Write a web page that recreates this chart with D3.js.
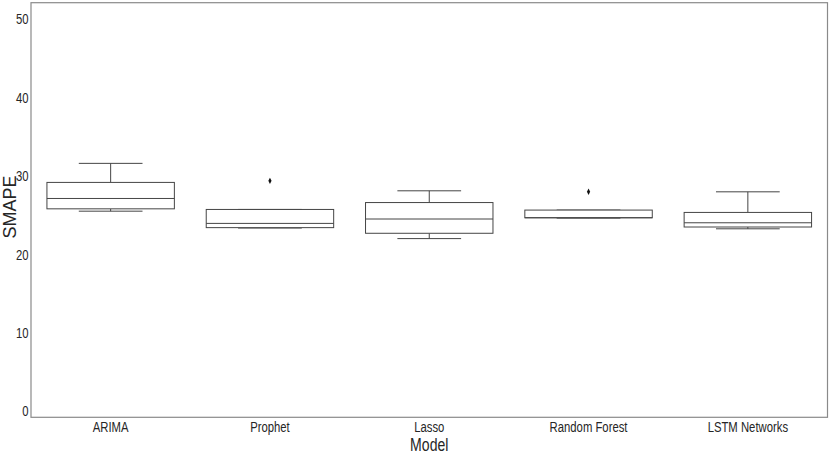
<!DOCTYPE html>
<html>
<head>
<meta charset="utf-8">
<script src="https://cdn.jsdelivr.net/npm/d3@7"></script>
<style>
  html, body { margin: 0; padding: 0; background: #fff; }
  svg { display: block; }
  text { font-family: "Liberation Sans", Arial, sans-serif; }
</style>
</head>
<body>
<script>
const categories = ["ARIMA", "Prophet", "Lasso", "Random Forest", "LSTM Networks"];
const whiskerLow = [25.5, 23.35, 22.0, 24.62, 23.25];
const q1 = [25.8, 23.4, 22.68, 24.66, 23.48];
const medians = [27.12, 23.94, 24.5, 24.66, 24.02];
const q3 = [29.17, 25.72, 26.6, 25.64, 25.34];
const whiskerHigh = [31.6, 25.72, 28.1, 25.64, 27.97];
const outliers = [[], [29.37], [], [27.97], []];
const yTicks = [0, 10, 20, 30, 40, 50];

const W = 831, H = 457;
const m = { left: 31, right: 3.5, top: 2.7, bottom: 39.7 };
const narrow = 0.78;

const svg = d3.select("body").append("svg").attr("width", W).attr("height", H);

const x = d3.scaleBand().domain(categories).range([m.left, W - m.right]).padding(0);
const y = d3.scaleLinear().domain([-0.8, 52.1]).range([H - m.bottom, m.top]);

const boxW = x.bandwidth() * 0.8;
const capW = boxW * 0.5;
const stroke = "#454545";

const data = categories.map((c, i) => ({
  c, lo: whiskerLow[i], q1: q1[i], med: medians[i], q3: q3[i], hi: whiskerHigh[i], out: outliers[i]
}));

const g = svg.append("g");
const cx = d => x(d.c) + x.bandwidth() / 2;

const box = g.selectAll("g.box").data(data).join("g").attr("class", "box");
box.append("line").attr("x1", cx).attr("x2", cx).attr("y1", d => y(d.q3)).attr("y2", d => y(d.hi))
  .attr("stroke", stroke).attr("stroke-width", 1);
box.append("line").attr("x1", cx).attr("x2", cx).attr("y1", d => y(d.q1)).attr("y2", d => y(d.lo))
  .attr("stroke", stroke).attr("stroke-width", 1);
box.append("line").attr("x1", d => cx(d) - capW / 2).attr("x2", d => cx(d) + capW / 2)
  .attr("y1", d => y(d.hi)).attr("y2", d => y(d.hi)).attr("stroke", stroke).attr("stroke-width", 1);
box.append("line").attr("x1", d => cx(d) - capW / 2).attr("x2", d => cx(d) + capW / 2)
  .attr("y1", d => y(d.lo)).attr("y2", d => y(d.lo)).attr("stroke", stroke).attr("stroke-width", 1);
box.append("rect").attr("x", d => cx(d) - boxW / 2).attr("width", boxW)
  .attr("y", d => y(d.q3)).attr("height", d => y(d.q1) - y(d.q3))
  .attr("fill", "#fff").attr("stroke", stroke).attr("stroke-width", 1);
box.append("line").attr("x1", d => cx(d) - boxW / 2).attr("x2", d => cx(d) + boxW / 2)
  .attr("y1", d => y(d.med)).attr("y2", d => y(d.med)).attr("stroke", stroke).attr("stroke-width", 1);
box.selectAll("path.out").data(d => d.out.map(v => ({ v, d }))).join("path").attr("class", "out")
  .attr("transform", o => `translate(${cx(o.d)},${y(o.v)})`)
  .attr("d", "M0,-3.2L1.6,0L0,3.2L-1.6,0Z").attr("fill", "#111");

// frame
svg.append("rect").attr("x", m.left).attr("y", m.top)
  .attr("width", W - m.right - m.left).attr("height", H - m.bottom - m.top)
  .attr("fill", "none").attr("stroke", "#8a8a8a").attr("stroke-width", 1.2);

// y ticks
svg.append("g").selectAll("text").data(yTicks).join("text")
  .attr("transform", d => `translate(${m.left - 2.5},${y(d)}) scale(${narrow},1)`)
  .attr("dy", "0.36em")
  .attr("text-anchor", "end").attr("font-size", 14.5).attr("fill", "#262626").text(d => d);

// x ticks
svg.append("g").selectAll("text").data(categories).join("text")
  .attr("transform", d => `translate(${x(d) + x.bandwidth() / 2},${H - m.bottom + 15}) scale(${narrow},1)`)
  .attr("text-anchor", "middle").attr("font-size", 14.5).attr("fill", "#262626").text(d => d);

// axis titles
svg.append("text")
  .attr("transform", `translate(${(m.left + W - m.right) / 2},451) scale(0.76,1)`)
  .attr("text-anchor", "middle").attr("font-size", 18.5).attr("fill", "#262626").text("Model");
svg.append("text").attr("transform", `translate(15.5,207) rotate(-90)`)
  .attr("text-anchor", "middle").attr("font-size", 18).attr("fill", "#262626").text("SMAPE");
</script>
</body>
</html>
